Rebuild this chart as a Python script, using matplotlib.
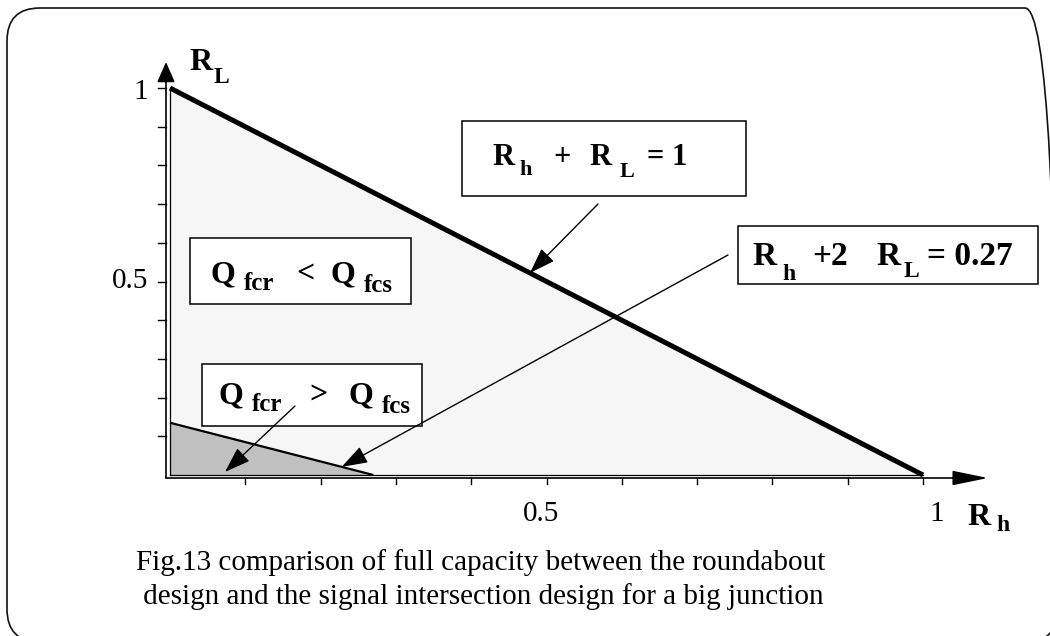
import matplotlib
matplotlib.use("Agg")
import matplotlib.pyplot as plt
from matplotlib.patches import Polygon, Rectangle, FancyBboxPatch
from matplotlib.transforms import IdentityTransform

# ---------------- data ----------------
rh_ticks = [0.1, 0.2, 0.3, 0.4, 0.5, 0.6, 0.7, 0.8, 0.9, 1.0]
rl_ticks = [0.1, 0.2, 0.3, 0.4, 0.5, 0.6, 0.7, 0.8, 0.9, 1.0]
rh_tick_labels = ["", "", "", "", "0.5", "", "", "", "", "1"]
rl_tick_labels = ["", "", "", "", "0.5", "", "", "", "", "1"]

# intercepts (R_h, R_L) of the two boundary lines
total_line = [1.0, 1.0]      # R_h + R_L = 1
split_line = [0.27, 0.135]   # R_h + 2 R_L = 0.27

# rich labels: (text, is_subscript)
label_total = [("R", 0), ("h", 1), ("+", 0), ("R", 0), ("L", 1), ("=", 0), ("1", 0)]
label_split = [("R", 0), ("h", 1), ("+2", 0), ("R", 0), ("L", 1), ("= 0.27", 0)]
label_less = [("Q", 0), ("fcr", 1), ("<", 0), ("Q", 0), ("fcs", 1)]
label_more = [("Q", 0), ("fcr", 1), (">", 0), ("Q", 0), ("fcs", 1)]
axis_x_label = [("R", 0), ("h", 1)]
axis_y_label = [("R", 0), ("L", 1)]
caption = ["Fig.13 comparison of full capacity between the roundabout",
           " design and the signal intersection design for a big junction"]

# arrow tips on lines (R_h position of tip)
tip_total_rh = 0.478
tip_split_rh = 0.228

# ---------------- style ----------------
plt.rcParams["font.family"] = ["Liberation Serif", "DejaVu Serif"]

W, H = 1050, 636
fig = plt.figure(figsize=(W / 100, H / 100), dpi=100)
fig.patch.set_facecolor("white")

X0, X1, Y0, Y1 = 170, 923, 475, 88   # pixel positions of axis 0 and 1
ax = fig.add_axes([X0 / W, (H - Y0) / H, (X1 - X0) / W, (Y0 - Y1) / H])
ax.set_xlim(0, 1)
ax.set_ylim(0, 1)
ax.axis("off")

SX, SY = (X1 - X0), (Y0 - Y1)


def P(xp, yp):
    """pixel (from top-left) -> data coordinates"""
    return ((xp - X0) / SX, (Y0 - yp) / SY)


def rich(pieces, xs, bases, size, subsize, z=7):
    for (txt, sub), x, b in zip(pieces, xs, bases):
        fig.text(x / W, 1 - b / H, txt, fontsize=subsize if sub else size,
                 fontweight="bold", ha="left", va="baseline", zorder=z)


# rounded frame
frame = FancyBboxPatch((7, -6), 1051, 634, boxstyle="round,pad=0,rounding_size=33",
                       transform=IdentityTransform(), fc="none", ec="#111111", lw=1.2)
fig.patches.append(frame)

# regions
ax.add_patch(Polygon([(0, 0), (total_line[0], 0), (0, total_line[1])],
                     closed=True, fc="#f6f6f6", ec="none", zorder=1))
ax.add_patch(Polygon([(0, 0), (split_line[0], 0), (0, split_line[1])],
                     closed=True, fc="#c0c0c0", ec="none", zorder=2))
ax.plot([0, 0], [0, total_line[1]], color="k", lw=0.9, zorder=3, clip_on=False)
ax.plot([0, total_line[0]], [0, 0], color="k", lw=0.9, zorder=3, clip_on=False)
ax.plot([0, total_line[0]], [total_line[1], 0], color="k", lw=3.6,
        solid_capstyle="butt", zorder=4, clip_on=False)
ax.plot([0, split_line[0]], [split_line[1], 0], color="k", lw=1.6,
        solid_capstyle="butt", zorder=4, clip_on=False)

# axes with arrows
ax_x = -3 / SY
ax_y = -4 / SX
ax.annotate("", xy=(P(988, 0)[0], ax_x), xytext=(ax_y, ax_x),
            arrowprops=dict(arrowstyle="-|>,head_length=2.2,head_width=0.45",
                            mutation_scale=10, lw=1.2, color="k",
                            shrinkA=0, shrinkB=0), zorder=5, annotation_clip=False)
ax.annotate("", xy=(ax_y, P(0, 62)[1]), xytext=(ax_y, ax_x),
            arrowprops=dict(arrowstyle="-|>,head_length=1.25,head_width=0.55",
                            mutation_scale=10, lw=1.2, color="k",
                            shrinkA=0, shrinkB=0), zorder=5, annotation_clip=False)

# ticks
for t in rh_ticks:
    ax.plot([t, t], [ax_x, ax_x - 6 / SY], color="k", lw=1.0, clip_on=False, zorder=5)
for t in rl_ticks:
    ax.plot([ax_y, ax_y - 8 / SX], [t, t], color="k", lw=1.0, clip_on=False, zorder=5)

x_label_dx = {"0.5": -5, "1": 14}
for t, s in zip(rh_ticks, rh_tick_labels):
    if s:
        ax.text(t + x_label_dx[s] / SX, P(0, 514)[1], s, fontsize=21,
                ha="center", va="center")
y_label_dy = {"0.5": 0, "1": -4}
for t, s in zip(rl_ticks, rl_tick_labels):
    if s:
        ax.text(P(148, 0)[0], t + y_label_dy[s] / SY, s, fontsize=21,
                ha="right", va="center")

rich(axis_y_label, [189, 214], [70, 83], 23, 17)
rich(axis_x_label, [967, 996], [525, 531], 23, 17)


# boxes
def box(x0, y0, x1, y1):
    bx, by = P(x0, y1)
    ex, ey = P(x1, y0)
    ax.add_patch(Rectangle((bx, by), ex - bx, ey - by, fc="white", ec="k",
                           lw=1.1, zorder=6, clip_on=False))


box(190, 238, 411, 304)
rich(label_less, [211, 244, 296, 331, 364], [282, 290, 282, 282, 292], 23, 18)
box(202, 364, 422, 426)
rich(label_more, [219, 252, 309, 349, 382], [403, 411, 403, 403, 413], 23, 18)
box(462, 121, 746, 196)
rich(label_total, [492, 519, 553, 589, 620, 646, 671], [165, 175, 165, 165, 177, 165, 165], 22, 16)
box(738, 226, 1038, 284)
rich(label_split, [752, 782, 812, 876, 904, 927], [265, 280, 265, 265, 277, 265], 24, 17)

# annotation arrows
arrow_kw = dict(arrowstyle="-|>,head_length=1.6,head_width=0.55", mutation_scale=10,
                lw=1.0, color="k", shrinkA=0, shrinkB=0)
ax.annotate("", xy=(tip_total_rh, total_line[1] * (1 - tip_total_rh / total_line[0])),
            xytext=P(598, 204), arrowprops=arrow_kw, zorder=8, annotation_clip=False)
ax.annotate("", xy=(tip_split_rh, split_line[1] * (1 - tip_split_rh / split_line[0])),
            xytext=P(728, 255), arrowprops=arrow_kw, zorder=8, annotation_clip=False)
ax.annotate("", xy=P(225, 472), xytext=P(295, 406), arrowprops=arrow_kw,
            zorder=8, annotation_clip=False)

# caption
fig.text(136 / W, 1 - 570 / H, caption[0], fontsize=21, ha="left", va="baseline")
fig.text(136 / W, 1 - 604 / H, caption[1], fontsize=21, ha="left", va="baseline")

fig.savefig("out.png", dpi=100)
